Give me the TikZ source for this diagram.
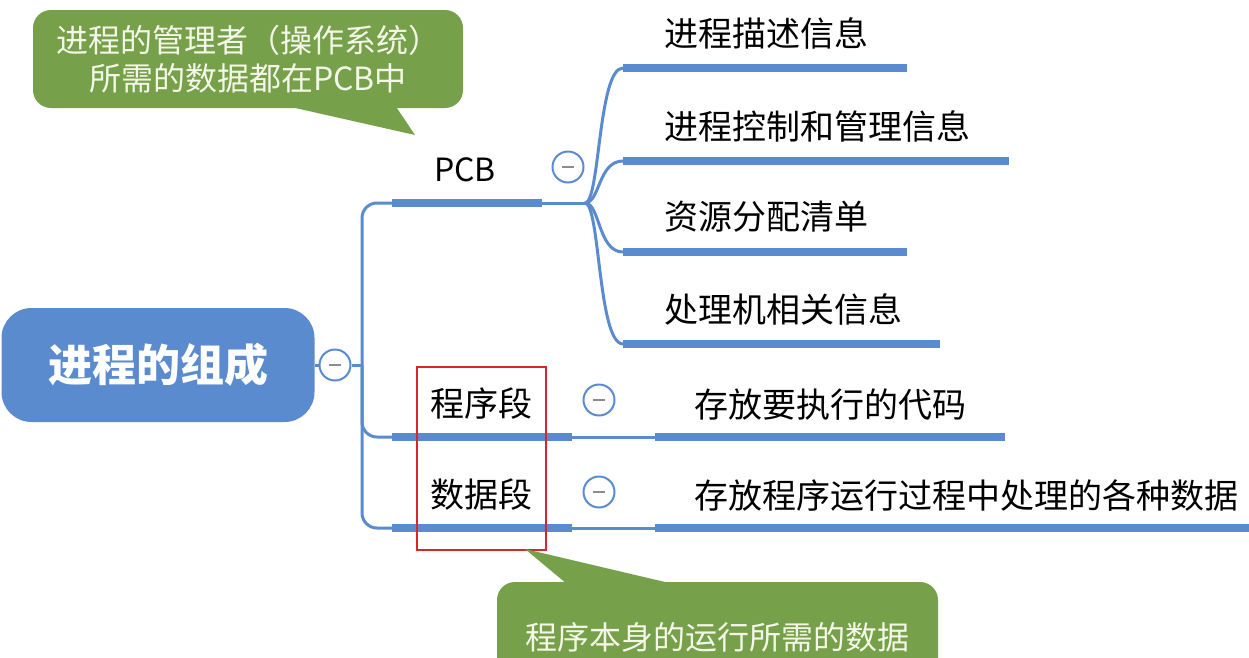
\documentclass[tikz,border=0pt]{standalone}
\usepackage{fontspec}
\setmainfont{Noto Sans CJK SC}
\usetikzlibrary{positioning}
\definecolor{mapblue}{HTML}{5B8BCF}
\definecolor{notegreen}{HTML}{76A04A}
\definecolor{notetext}{HTML}{F4F7E8}
\definecolor{markred}{HTML}{D9262B}

\begin{document}
\begin{tikzpicture}[x=1pt, y=-1pt,
    link/.style={draw=mapblue, line width=3pt},
    bar/.style={draw=mapblue, line width=8.5pt},
    topic/.style={inner sep=0pt, anchor=west, font=\fontsize{34}{36}\selectfont},
    rootbox/.style={fill=mapblue, rounded corners=30pt, minimum width=313pt,
      minimum height=114pt, text=white, font=\bfseries\fontsize{44}{48}\selectfont},
    fold/.style={circle, draw=mapblue, fill=white, line width=2pt, minimum size=31pt,
      inner sep=0pt, path picture={\draw[line width=2.5pt, black!45]
        ([xshift=-6pt]path picture bounding box.center) --
        ([xshift=6pt]path picture bounding box.center);}},
    note/.style={fill=notegreen, rounded corners=18pt, text=notetext, align=center,
      inner sep=0pt, font=\fontsize{32}{38}\selectfont}]
    \clip (0,0) rectangle (1249,657);

    % root and first level
    \node[rootbox] (root) at (158,365) {进程的组成};
    \node[fold] (f0) at (335,365) {};
    \coordinate (trunk) at (362,365);
    \coordinate (pcbL) at (392,203);
    \coordinate (pcbR) at (542,203);
    \coordinate (hub) at (585,203);
    \coordinate (codeL) at (392,437);
    \coordinate (codeR) at (572,437);
    \coordinate (dataL) at (392,528);
    \coordinate (dataR) at (572,528);
    \draw[link] (root) -- (f0);
    \draw[link] (f0) -- (trunk);
    \draw[link, rounded corners=15pt] (pcbL) -| (trunk) |- (dataL);
    \draw[link, rounded corners=15pt] (trunk) |- (codeL);
    \draw[link] (pcbR) -- (hub);
    \draw[bar] (pcbL) -- (pcbR);
    \draw[bar] (codeL) -- (codeR);
    \draw[bar] (dataL) -- (dataR);
    \node[topic, anchor=center, font=\fontsize{32}{36}\selectfont] (pcb) at (465,170) {PCB};
    \node[topic, anchor=center] (code) at (481,404) {程序段};
    \node[topic, anchor=center] (data) at (481,495) {数据段};
    \node[fold] (f1) at (568,167) {};
    \node[fold] (f2) at (599,400) {};
    \node[fold] (f3) at (599,492) {};

    % PCB contents
    \foreach \n/\y/\xe/\t in {1/68/907/进程描述信息, 2/161/1009/进程控制和管理信息,
        3/252/907/资源分配清单, 4/344/940/处理机相关信息} {
      \coordinate (p\n L) at (623,\y);
      \coordinate (p\n R) at (\xe,\y);
      \draw[link] (hub) .. controls (600,203) and (598,\y) .. (p\n L);
      \draw[bar] (p\n L) -- (p\n R);
      \node[topic] (p\n) at (664,\y-35) {\t};
    }

    % program and data segments
    \coordinate (codeCL) at (655,437);
    \coordinate (codeCR) at (1005,437);
    \coordinate (dataCL) at (655,528);
    \coordinate (dataCR) at (1260,528);
    \draw[link] (codeR) -- (codeCL);
    \draw[link] (dataR) -- (dataCL);
    \draw[bar] (codeCL) -- (codeCR);
    \draw[bar] (dataCL) -- (dataCR);
    \node[topic] (codeC) at (694,405) {存放要执行的代码};
    \node[topic] (dataC) at (694,495) {存放程序运行过程中处理的各种数据};

    \node[draw=markred, line width=2.5pt, minimum width=129pt, minimum height=183pt,
      inner sep=0pt] (mark) at (481.5,458.5) {};

    % callouts
    \node[note, minimum width=430pt, minimum height=98pt] (note1) at (248,59)
      {进程的管理者（操作系统）\\所需的数据都在PCB中};
    \coordinate (tip1) at (415,135);
    \fill[notegreen] ([xshift=35pt, yshift=3pt]note1.south) -- (tip1)
      -- ([xshift=147pt, yshift=3pt]note1.south) -- cycle;
    \node[note, minimum width=441pt, minimum height=110pt] (note2) at (717.5,637)
      {程序本身的运行所需的数据};
    \coordinate (tip2) at (525,549);
    \fill[notegreen] ([xshift=-149.5pt, yshift=-3pt]note2.north) -- (tip2)
      -- ([xshift=-40.5pt, yshift=-3pt]note2.north) -- cycle;
\end{tikzpicture}
\end{document}
